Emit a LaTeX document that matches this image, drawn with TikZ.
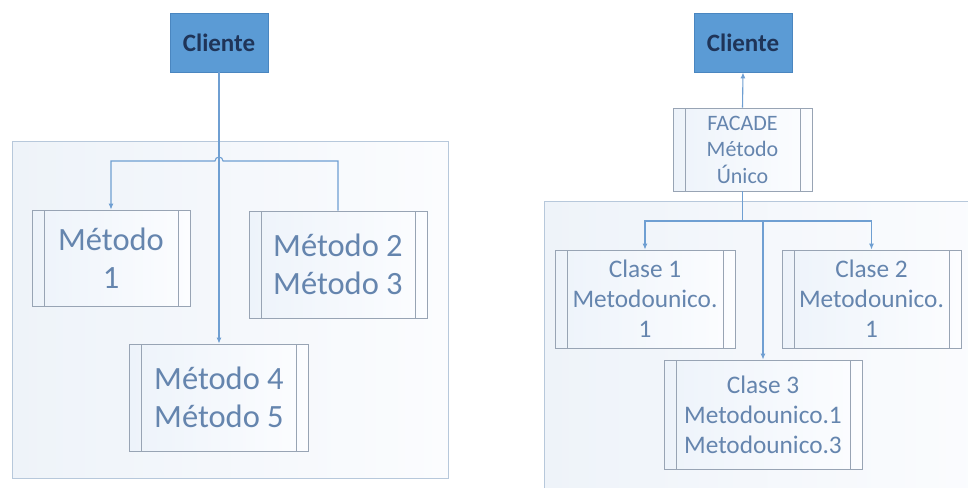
\documentclass[tikz,border=0pt]{standalone}
\usepackage{fontspec}
\setmainfont{Carlito}
\usetikzlibrary{arrows.meta}
\definecolor{clfill}{HTML}{5B9BD5}
\definecolor{cldraw}{HTML}{4A86C0}
\definecolor{cltext}{HTML}{1F3458}
\definecolor{conn}{HTML}{6F9FD2}
\definecolor{boxline}{HTML}{98A4B4}
\definecolor{boxtext}{HTML}{6585AE}
\definecolor{contline}{HTML}{B7C8DB}
\definecolor{contL}{HTML}{EEF3F9}
\definecolor{contR}{HTML}{FBFCFE}
\definecolor{boxL}{HTML}{EDF3FA}
\definecolor{boxR}{HTML}{FCFDFF}
\tikzset{
  client/.style={draw=cldraw, line width=0.8pt, fill=clfill, text=cltext,
    minimum width=98pt, minimum height=59pt, inner sep=0pt,
    font=\fontsize{25}{30}\selectfont\bfseries},
  procbox/.style={draw=boxline, line width=0.8pt, left color=boxL, right color=boxR,
    text=boxtext, inner sep=0pt, align=center,
    path picture={
      \draw[boxline, line width=0.8pt]
        ([xshift=12pt]path picture bounding box.north west) --
        ([xshift=12pt]path picture bounding box.south west);
      \draw[boxline, line width=0.8pt]
        ([xshift=-12pt]path picture bounding box.north east) --
        ([xshift=-12pt]path picture bounding box.south east);
    }},
  bigtxt/.style={font=\fontsize{32.5}{38}\selectfont},
  midtxt/.style={font=\fontsize{25.3}{30}\selectfont},
  smalltxt/.style={font=\fontsize{22}{26.5}\selectfont},
  container/.style={draw=contline, line width=0.9pt, left color=contL, right color=contR},
  link/.style={draw=conn, line width=1.1pt},
  arr/.style={-{Latex[length=6pt,width=5pt]}}
}
\begin{document}
\begin{tikzpicture}[x=1pt, y=-1pt]
\useasboundingbox (0,0) rectangle (968,487);
\clip (0,0) rectangle (968,487);
\fill[white] (0,0) rectangle (968,487);

% ---------- left panel ----------
\path[container] (12,141) rectangle (448,478);
\node[client] (clL) at (219,42.5) {Cliente};
\node[procbox, bigtxt, minimum width=158pt, minimum height=96pt] (m1) at (111,258) {Método\\1};
\node[procbox, bigtxt, minimum width=178pt, minimum height=107pt] (m23) at (338,264.5) {Método 2\\Método 3};
\node[procbox, bigtxt, minimum width=179pt, minimum height=107pt] (m45) at (219,397.5) {Método 4\\Método 5};

\coordinate (hopR) at (223,161);
\coordinate (hopL) at (215,161);
\draw[link, arr] (clL.south) -- (m45.north);
\draw[link, arr] (m23.north) |- (hopR) arc[start angle=0, end angle=180, radius=4pt]
  -- (m1.north |- hopL) -- (m1.north);

% ---------- right panel ----------
\path[container] (544,201) rectangle (990,510);
\node[client] (clR) at (743,42.5) {Cliente};
\node[procbox, smalltxt, minimum width=139pt, minimum height=83pt] (fac) at (742.5,149.5) {FACADE\\Método\\Único};
\node[procbox, midtxt, minimum width=180pt, minimum height=98pt] (c1) at (645,299) {Clase 1\\Metodounico.\\1};
\node[procbox, midtxt, minimum width=179pt, minimum height=98pt] (c2) at (871.5,299) {Clase 2\\Metodounico.\\1};
\node[procbox, midtxt, minimum width=198pt, minimum height=109pt] (c3) at (763,414.5) {Clase 3\\Metodounico.1\\Metodounico.3};

\coordinate (jR) at (742.5,221);
\draw[link, arr] (fac.north) -- (clR.south);
\draw[link] (fac.south) -- (jR);
\draw[link, arr] (jR) -| (c1.north);
\draw[link, arr] (jR) -| (c2.north);
\draw[link, arr] (c3.north |- jR) -- (c3.north);
\end{tikzpicture}
\end{document}
